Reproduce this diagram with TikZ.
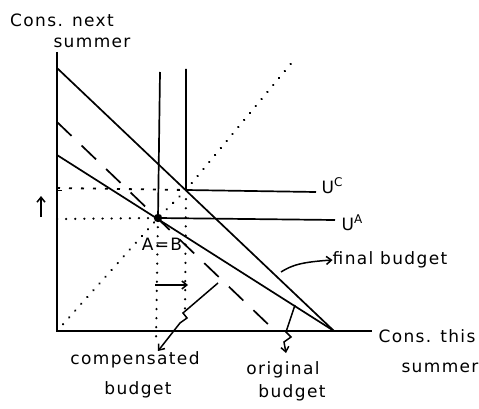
\documentclass[tikz,border=0pt]{standalone}
\usepackage{fontspec}
\setmainfont{DejaVu Sans}[LetterSpace=8]
\usetikzlibrary{arrows.meta}
\newcommand{\supl}[1]{\raisebox{7pt}{\fontsize{12}{12}\selectfont #1}}
\begin{document}
\begin{tikzpicture}[x=1pt,y=-1pt,
  ln/.style={line width=1.7pt},
  dotln/.style={line width=2.4pt, line cap=round, dash pattern=on 0.1pt off 9pt},
  dashln/.style={line width=1.7pt, dash pattern=on 20pt off 14pt},
  lbl/.style={font=\fontsize{17}{19}\selectfont, inner sep=0pt},
  arr/.style={line width=1.5pt, -{Straight Barb[length=5pt,width=8pt]}}]
\useasboundingbox (0,0) rectangle (479,409);
% points
\coordinate (O) at (57,331);
\coordinate (Ytop) at (57,52);
\coordinate (Xend) at (372,331);
\coordinate (A) at (158,218);
\coordinate (C) at (186,190);
\coordinate (Q) at (334,331);
\coordinate (P1) at (57,155);
\coordinate (P2) at (57,68);
\coordinate (D1) at (57,122);
\coordinate (D2) at (272,328);
\coordinate (UAtop) at (160,72);
\coordinate (UAend) at (335,220);
\coordinate (UCtop) at (186,69);
\coordinate (UCend) at (316,192);
\coordinate (T) at (294,60);
\coordinate (YA) at (57,219);
\coordinate (YC) at (57,188);
\coordinate (XA) at (156,342);
\coordinate (XC) at (185,315);
% axes
\draw[ln] (Ytop) -- (O) -- (Xend);
\draw[line width=1pt] (57,190) -- (62,190);
% budgets
\draw[ln] (P1) -- (Q);
\draw[ln] (P2) -- (Q);
\draw[dashln] (D1) -- (D2);
% indifference curves
\draw[ln] (UAtop) -- (A) -- (UAend);
\draw[ln] (UCtop) -- (C) -- (UCend);
% dotted guides
\draw[dotln] (O) -- (A) -- (C) -- (T);
\draw[dotln] (YA) -- (A);
\draw[line width=1.8pt, dash pattern=on 3pt off 9pt] (YC) -- (C);
\draw[dotln] (A) -- (XA);
\draw[dotln] (C) -- (XC);
\fill (A) circle (4.2pt);
% labels
\node[lbl] (ylab1) at (62,20) {Cons. next};
\node[lbl] (ylab2) at (92,43) {summer};
\node[lbl] (xlab1) at (427,336) {Cons. this};
\node[lbl] (xlab2) at (440,368) {summer};
\node[lbl] (uc) at (332,186) {U\supl{C}};
\node[lbl] (ua) at (352,223) {U\supl{A}};
\node[lbl] (ab) at (162,244) {A=B};
\node[lbl] (fb) at (390,260) {final budget};
\node[lbl] (cb1) at (135,360) {compensated};
\node[lbl] (cb2) at (138,390) {budget};
\node[lbl] (ob1) at (283,370) {original};
\node[lbl] (ob2) at (292,393) {budget};
% arrows
\coordinate (up1) at (41,217);
\coordinate (up2) at (41,196);
\draw[arr] (up1) -- (up2);
\coordinate (r1) at (155,285);
\coordinate (r2) at (188,285);
\draw[arr] (r1) -- (r2);
\coordinate (fa) at (281,272);
\draw[arr] (fa) .. controls (292,265) and (302,262) .. (fb.west);
\coordinate (ca) at (218,283);
\coordinate (cend) at (158,351);
\draw[arr] (ca) -- (183,313) -- (187,318) -- (180,323) -- (cend);
\coordinate (oa) at (295,305);
\coordinate (oend) at (286,353);
\draw[arr] (oa) -- (286,332) -- (291,337) -- (284,342) -- (oend);
\end{tikzpicture}
\end{document}
